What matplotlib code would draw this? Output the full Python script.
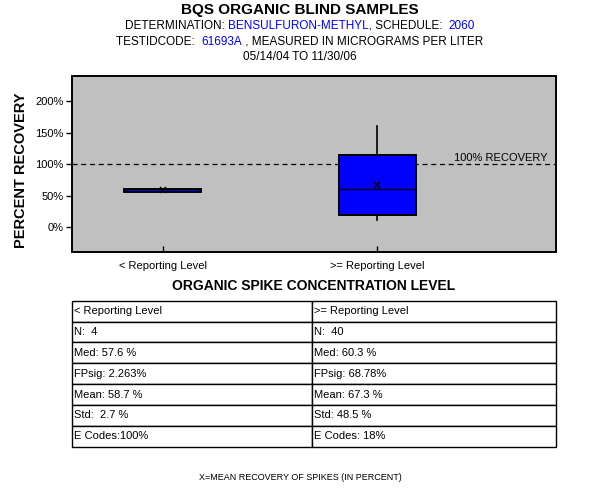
import matplotlib
matplotlib.use("Agg")
from matplotlib import pyplot as plt
from matplotlib.offsetbox import TextArea, HPacker, AnnotationBbox

plt.rcParams['font.family'] = ['Liberation Sans', 'DejaVu Sans']

# box summaries (percent recovery)
categories = ["< Reporting Level", ">= Reporting Level"]
q1 = [56.0, 19.8]
q3 = [60.0, 114.5]
medians = [57.6, 60.3]
means = [58.7, 67.3]
whisk_lo = [56.0, 11.8]
whisk_hi = [60.0, 160.9]

yticks = [0, 50, 100, 150, 200]

table_rows = [
    ["< Reporting Level", ">= Reporting Level"],
    ["N:  4", "N:  40"],
    ["Med: 57.6 %", "Med: 60.3 %"],
    ["FPsig: 2.263%", "FPsig: 68.78%"],
    ["Mean: 58.7 %", "Mean: 67.3 %"],
    ["Std:  2.7 %", "Std: 48.5 %"],
    ["E Codes:100%", "E Codes: 18%"],
]

BLUE = "#0000FF"

fig = plt.figure(figsize=(6, 5), dpi=100)


def colored_line(parts, y, size=8.5):
    # chain text pieces of different colours, centred on the figure
    boxes = [TextArea(t, textprops=dict(color=c, fontsize=size)) for t, c in parts]
    pack = HPacker(children=boxes, align="baseline", pad=0, sep=0)
    ab = AnnotationBbox(pack, (0.5, y), xycoords="figure fraction",
                        frameon=False, box_alignment=(0.5, 0.5), pad=0)
    fig.add_artist(ab)


fig.text(0.5, 1 - 10 / 500, "BQS ORGANIC BLIND SAMPLES", ha="center", va="center",
         fontsize=11, fontweight="bold")
colored_line([("DETERMINATION: ", "black"), ("BENSULFURON-METHYL,", BLUE),
              (" SCHEDULE:  ", "black"), ("2060", BLUE)], 1 - 26 / 500)
colored_line([("TESTIDCODE:  ", "black"), ("61693A", BLUE),
              (" , MEASURED IN MICROGRAMS PER LITER", "black")], 1 - 41.7 / 500)
fig.text(0.5, 1 - 56.7 / 500, "05/14/04 TO 11/30/06", ha="center", va="center",
         fontsize=8.5)

# main box plot
ax = fig.add_axes([72.3 / 600, 1 - 252.3 / 500, 484 / 600, 176.3 / 500])
ax.set_facecolor("#C0C0C0")

positions = [1, 2]
stats = []
for i in range(len(categories)):
    stats.append(dict(med=medians[i], q1=q1[i], q3=q3[i], whislo=whisk_lo[i],
                      whishi=whisk_hi[i], mean=means[i], fliers=[]))

ax.bxp(stats, positions=positions, widths=0.36, patch_artist=True, showcaps=False,
       showmeans=True, meanline=False,
       boxprops=dict(facecolor=BLUE, edgecolor="black", linewidth=1.4),
       medianprops=dict(color="black", linewidth=1),
       whiskerprops=dict(color="black", linewidth=1.2),
       meanprops=dict(marker="x", markeredgecolor="black", markersize=5,
                      markeredgewidth=1.1), zorder=3)

ax.axhline(100, color="black", linestyle=(0, (4, 3)), linewidth=0.9, zorder=2)
ax.text(0.983, 101.5, "100% RECOVERY", transform=ax.get_yaxis_transform(),
        ha="right", va="bottom", fontsize=8)

ax.set_xlim(0.579, 2.834)
ax.set_ylim(-40, 240)
ax.set_yticks(yticks)
ax.set_yticklabels([f"{v}%" for v in yticks], fontsize=8)
ax.set_xticks(positions)
ax.set_xticklabels(categories, fontsize=8)
ax.tick_params(axis="y", direction="out", length=4, width=1, pad=2)
ax.tick_params(axis="x", direction="in", length=4, width=1, pad=6)
for s in ax.spines.values():
    s.set_linewidth(1.4)
ax.set_ylabel("PERCENT RECOVERY", fontsize=10.5, fontweight="bold")
ax.yaxis.set_label_coords(-0.092, 0.464)

fig.text(314 / 600, 1 - 286 / 500, "ORGANIC SPIKE CONCENTRATION LEVEL", ha="center",
         va="center", fontsize=10, fontweight="bold")

# statistics table
tax = fig.add_axes([72 / 600, 1 - 446.7 / 500, 484 / 600, 146 / 500])
tax.axis("off")
tbl = tax.table(cellText=table_rows, colWidths=[0.496, 0.504], cellLoc="left",
                loc="center", bbox=[0, 0, 1, 1])
tbl.auto_set_font_size(False)
tbl.set_fontsize(8)
for (r, c), cell in tbl.get_celld().items():
    cell.set_edgecolor("black")
    cell.set_linewidth(1)
    cell.PAD = 0.008

fig.text(0.5, 1 - 477 / 500, "X=MEAN RECOVERY OF SPIKES (IN PERCENT)", ha="center",
         va="center", fontsize=6.5)

fig.savefig("out.png", dpi=100)
